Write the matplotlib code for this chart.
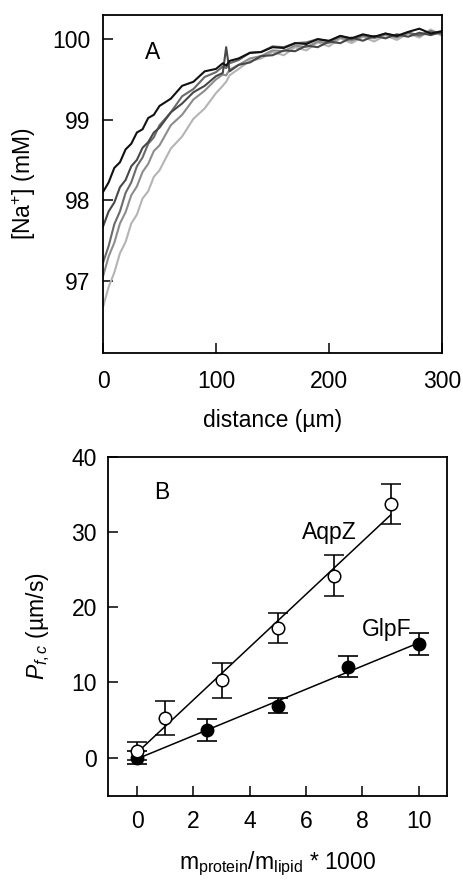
import numpy as np
import matplotlib
matplotlib.use("Agg")
import matplotlib.pyplot as plt

plt.rcParams['font.family'] = ['Liberation Sans', 'DejaVu Sans']
plt.rcParams['mathtext.fontset'] = 'custom'
plt.rcParams['mathtext.rm'] = 'Liberation Sans'
plt.rcParams['mathtext.it'] = 'Liberation Sans:italic'
plt.rcParams['mathtext.bf'] = 'Liberation Sans:bold'

# ---------------- Panel A data ----------------
distance = [0, 5, 10, 15, 20, 25, 30, 35, 40, 45, 50, 60, 70, 80, 90, 100, 106, 109, 112,
            120, 130, 140, 150, 160, 170, 180, 190, 200, 210, 220, 230, 240, 250, 260,
            270, 280, 290, 300]
na_1 = [98.10, 98.22, 98.40, 98.47, 98.63, 98.70, 98.84, 98.88, 99.02, 99.06, 99.17, 99.26,
        99.42, 99.47, 99.60, 99.63, 99.70, 99.67, 99.73, 99.76, 99.83, 99.84, 99.90, 99.89,
        99.95, 99.94, 100.00, 99.98, 100.04, 100.01, 100.06, 100.03, 100.07, 100.04, 100.09,
        100.13, 100.07, 100.10]
na_2 = [97.67, 97.86, 97.97, 98.16, 98.25, 98.42, 98.50, 98.65, 98.72, 98.84, 98.90, 99.09,
        99.20, 99.34, 99.42, 99.54, 99.58, 99.90, 99.60, 99.68, 99.71, 99.79, 99.80, 99.86,
        99.85, 99.92, 99.90, 99.97, 99.95, 100.02, 99.98, 100.04, 100.01, 100.06, 100.03,
        100.08, 100.05, 100.09]
na_3 = [97.22, 97.43, 97.70, 97.86, 98.09, 98.22, 98.42, 98.53, 98.70, 98.78, 98.93, 99.09,
        99.29, 99.38, 99.53, 99.59, 99.66, 99.64, 99.70, 99.74, 99.83, 99.84, 99.91, 99.90,
        99.95, 99.96, 100.00, 99.97, 100.04, 100.00, 100.05, 100.02, 100.07, 100.03, 100.08,
        100.05, 100.10, 100.07]
na_4 = [97.05, 97.30, 97.47, 97.71, 97.85, 98.06, 98.17, 98.35, 98.45, 98.61, 98.68, 98.93,
        99.06, 99.25, 99.36, 99.50, 99.56, 99.55, 99.62, 99.68, 99.76, 99.79, 99.86, 99.85,
        99.92, 99.90, 99.97, 99.95, 100.02, 99.98, 100.04, 100.01, 100.06, 100.02, 100.08,
        100.04, 100.09, 100.06]
na_5 = [96.67, 96.92, 97.10, 97.34, 97.48, 97.71, 97.82, 98.02, 98.11, 98.29, 98.37, 98.64,
        98.79, 99.01, 99.14, 99.33, 99.42, 99.47, 99.55, 99.63, 99.73, 99.76, 99.84, 99.80,
        99.90, 99.86, 99.96, 99.91, 100.01, 99.95, 100.03, 99.97, 100.05, 99.99, 100.07,
        100.02, 100.12, 100.04]
curves_a = [na_5, na_4, na_3, na_2, na_1]
colors_a = ['#b4b4b4', '#8c8c8c', '#6a6a6a', '#484848', '#111111']

# ---------------- Panel B data ----------------
aqpz_x = [0, 1, 3, 5, 7, 9]
aqpz_y = [0.9, 5.3, 10.3, 17.3, 24.2, 33.8]
aqpz_err = [1.2, 2.3, 2.35, 2.0, 2.7, 2.65]
glpf_x = [0, 2.5, 5, 7.5, 10]
glpf_y = [0.0, 3.7, 6.9, 12.1, 15.1]
glpf_err = [0.9, 1.5, 1.0, 1.4, 1.5]

FS = 16.5
fig = plt.figure(figsize=(4.64, 8.82), dpi=100)

# ---- Panel A ----
axA = fig.add_axes([103/464, 1 - 353/882, 339/464, 338/882])
for y, c in zip(curves_a, colors_a):
    axA.plot(distance, y, color=c, lw=1.5)
axA.set_xlim(0, 300)
axA.set_ylim(96.1, 100.3)
axA.set_xticks([0, 100, 200, 300])
axA.set_yticks([97, 98, 99, 100])
axA.tick_params(direction='in', length=7, width=1.1, labelsize=FS)
axA.tick_params(axis='x', pad=12)
axA.tick_params(axis='y', pad=9)
for s in axA.spines.values():
    s.set_linewidth(1.3)
axA.set_xlabel('distance (µm)', fontsize=FS, labelpad=12)
axA.set_ylabel('[Na$^{+}$] (mM)', fontsize=FS, labelpad=10)
axA.text(0.145, 0.888, 'A', transform=axA.transAxes, fontsize=FS,
         ha='center', va='center')

# ---- Panel B ----
axB = fig.add_axes([108/464, 1 - 796/882, 339/464, 339/882])
pa = np.polyfit(aqpz_x, aqpz_y, 1)
pg = np.polyfit(glpf_x, glpf_y, 1)
xa = np.array([min(aqpz_x), max(aqpz_x)])
xg = np.array([min(glpf_x), max(glpf_x)])
axB.plot(xa, np.polyval(pa, xa), color='black', lw=1.1, zorder=2)
axB.plot(xg, np.polyval(pg, xg), color='black', lw=1.1, zorder=2)
axB.errorbar(glpf_x, glpf_y, yerr=glpf_err, fmt='o', ms=9, mfc='black', mec='black',
             ecolor='black', elinewidth=1.2, capsize=7.5, capthick=1.2, zorder=3)
axB.errorbar(aqpz_x, aqpz_y, yerr=aqpz_err, fmt='o', ms=9, mfc='white', mec='black',
             mew=1.1, ecolor='black', elinewidth=1.2, capsize=7.5, capthick=1.2, zorder=4)
axB.set_xlim(-1.03, 11.0)
axB.set_ylim(-5.1, 40)
axB.set_xticks([0, 2, 4, 6, 8, 10])
axB.set_yticks([0, 10, 20, 30, 40])
axB.tick_params(direction='in', length=7, width=1.1, labelsize=FS)
axB.tick_params(axis='x', pad=10)
axB.tick_params(axis='y', pad=8)
for s in axB.spines.values():
    s.set_linewidth(1.3)
axB.set_xlabel(r'm$_{\mathrm{protein}}$/m$_{\mathrm{lipid}}$ * 1000', fontsize=FS, labelpad=12)
axB.set_ylabel(r'$P_{f,c}$ (µm/s)', fontsize=FS, labelpad=14)
axB.text(0.159, 0.894, 'B', transform=axB.transAxes, fontsize=FS, ha='center', va='center')
axB.text(6.84, 29.9, 'AqpZ', fontsize=FS, ha='center', va='center')
axB.text(8.87, 17.1, 'GlpF', fontsize=FS, ha='center', va='center')

fig.savefig('out.png', dpi=100)
